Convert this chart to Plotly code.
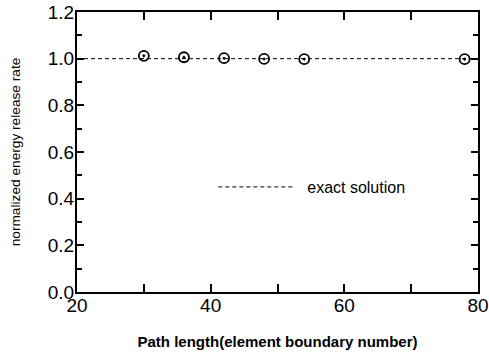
import plotly.graph_objects as go

# Path length (element boundary number) and normalized energy release rate
path_length = [30, 36, 42, 48, 54, 78]
release_rate = [1.012, 1.006, 1.002, 0.999, 0.998, 0.998]

exact_x = [20, 80]
exact_y = [1.0, 1.0]

x_tickvals = [20, 30, 40, 50, 60, 70, 80]
x_ticktext = ["20", "", "40", "", "60", "", "80"]
y_tickvals = [0.0, 0.2, 0.4, 0.6, 0.8, 1.0, 1.2]
y_ticktext = ["0.0", "0.2", "0.4", "0.6", "0.8", "1.0", "1.2"]

FONT = "Liberation Sans, Arial, sans-serif"

fig = go.Figure()
fig.add_trace(go.Scatter(
    x=exact_x, y=exact_y, mode="lines", name="\u00a0\u00a0exact solution",
    line=dict(color="black", width=1, dash="4px,3px"),
))
fig.add_trace(go.Scatter(
    x=path_length, y=release_rate, mode="markers", showlegend=False,
    marker=dict(symbol="circle-open-dot", size=10, color="black",
                line=dict(color="black", width=1.8)),
))

fig.update_layout(
    width=489, height=357,
    margin=dict(l=77, r=11, t=12, b=65),
    plot_bgcolor="white", paper_bgcolor="white",
    font=dict(family=FONT, color="black"),
    legend=dict(x=0.34, y=0.375, xanchor="left", yanchor="middle",
                bgcolor="rgba(0,0,0,0)", itemwidth=75,
                font=dict(size=16, family=FONT)),
    xaxis=dict(
        range=[20, 80], tickvals=x_tickvals, ticktext=x_ticktext,
        ticks="inside", ticklen=8, tickwidth=2, tickcolor="black",
        showline=True, linewidth=2, linecolor="black", mirror="ticks",
        showgrid=False, zeroline=False, automargin=False,
        tickfont=dict(size=19, family=FONT), ticklabelstandoff=-5,
        title=dict(text="<b>Path length(element boundary number)</b>",
                   font=dict(size=15, family=FONT), standoff=22),
    ),
    yaxis=dict(
        range=[0, 1.2], tickvals=y_tickvals, ticktext=y_ticktext,
        ticks="inside", ticklen=7, tickwidth=2, tickcolor="black",
        showline=True, linewidth=2, linecolor="black", mirror="ticks",
        showgrid=False, zeroline=False, automargin=False,
        minor=dict(ticks="inside", dtick=0.1, ticklen=5, tickwidth=1.5,
                   tickcolor="black", showgrid=False),
        tickfont=dict(size=19, family=FONT), ticklabelstandoff=-3,
        title=dict(text="normalized energy release rate",
                   font=dict(size=13.7, family=FONT), standoff=24),
    ),
)

fig.write_html("out.html")
